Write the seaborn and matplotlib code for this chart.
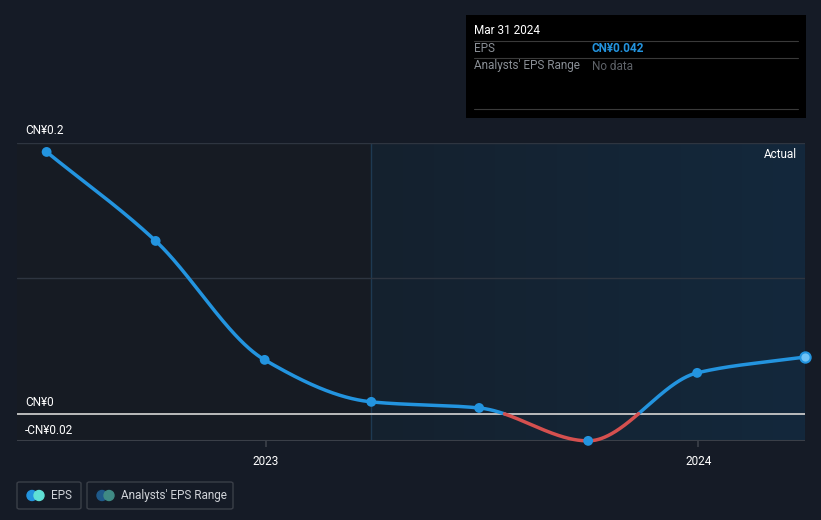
import numpy as np
import pandas as pd
import matplotlib
matplotlib.use("Agg")
import matplotlib.pyplot as plt
import matplotlib.dates as mdates
from matplotlib.patches import Rectangle, FancyBboxPatch, Ellipse
from matplotlib.colors import LinearSegmentedColormap
import seaborn as sns

# ---- data ----
dates = ["2022-06-30", "2022-09-30", "2022-12-31", "2023-03-31",
         "2023-06-30", "2023-09-30", "2023-12-31", "2024-03-31"]
eps = [0.1934, 0.1277, 0.0399, 0.0089, 0.0044, -0.0199, 0.0303, 0.042]
ytick_vals = [0.2, 0.0, -0.02]
ytick_labels = ["CN¥0.2", "CN¥0", "-CN¥0.02"]
xtick_dates = ["2023-01-01", "2024-01-01"]
xtick_labels = ["2023", "2024"]

BG = "#151b26"
BLUE = "#2394df"
RED = "#d5504f"

sns.set_theme(style="dark")
plt.rcParams['font.family'] = ['Roboto', 'DejaVu Sans']

df = pd.DataFrame({"date": pd.to_datetime(dates), "eps": eps})
xnum = mdates.date2num(df["date"])
y = np.array(eps)

def pchip(x, y, xs):
    h = np.diff(x)
    d = np.diff(y) / h
    m = np.zeros_like(y)
    for i in range(1, len(y) - 1):
        if d[i - 1] * d[i] <= 0:
            m[i] = 0
        else:
            w1 = 2 * h[i] + h[i - 1]
            w2 = h[i] + 2 * h[i - 1]
            m[i] = (w1 + w2) / (w1 / d[i - 1] + w2 / d[i])
    m[0] = d[0]
    m[-1] = d[-1]
    out = np.empty_like(xs)
    for j, xv in enumerate(xs):
        i = min(np.searchsorted(x, xv) - 1, len(x) - 2)
        i = max(i, 0)
        t = (xv - x[i]) / h[i]
        h00 = 2 * t**3 - 3 * t**2 + 1
        h10 = t**3 - 2 * t**2 + t
        h01 = -2 * t**3 + 3 * t**2
        h11 = t**3 - t**2
        out[j] = h00 * y[i] + h10 * h[i] * m[i] + h01 * y[i + 1] + h11 * h[i] * m[i + 1]
    return out

xs = np.linspace(xnum[0], xnum[-1], 1500)
ys = pchip(xnum, y, xs)

fig = plt.figure(figsize=(8.21, 5.2), dpi=100, facecolor=BG)
ax = fig.add_axes([17 / 821, 1 - 441 / 520, 788 / 821, 298 / 520])
ax.set_facecolor("#161b23")

x0 = mdates.date2num(pd.Timestamp("2022-06-05"))
x1 = xnum[-1]
ax.set_xlim(x0, x1)
ax.set_ylim(-0.02, 0.2)

# shaded "actual" region with gradient
grad = np.linspace(0, 1, 256).reshape(1, -1)
cmap = LinearSegmentedColormap.from_list("g", ["#15212e", "#13283c"])
ax.imshow(grad, extent=[xnum[3], x1, -0.02, 0.2], aspect="auto", cmap=cmap,
          zorder=0.5, origin="lower")
ax.axvline(xnum[3], color="#1e3a52", lw=1, zorder=0.6)

# grid lines
for gv in [0.2, 0.1]:
    ax.axhline(gv, color="#2e3540", lw=1, zorder=1)
ax.axhline(0, color="#c8c8c8", lw=1.3, zorder=2)
ax.axhline(-0.02, color="#3a3f48", lw=1.5, zorder=2)

# split line by sign
yp = np.where(ys >= 0, ys, np.nan)
yn = np.where(ys <= 0, ys, np.nan)
sign = np.sign(ys)
for i in range(len(ys) - 1):
    if sign[i] != sign[i + 1]:
        yp[i] = ys[i]; yp[i + 1] = ys[i + 1]
        yn[i] = ys[i]; yn[i + 1] = ys[i + 1]
ax.plot(xs, yp, color=BLUE, lw=2.5, zorder=3, solid_capstyle="round", clip_on=False)
ax.plot(xs, yn, color=RED, lw=2.5, zorder=3, solid_capstyle="round", clip_on=False)

sns.scatterplot(x=xnum[:-1], y=y[:-1], ax=ax, color=BLUE, s=50,
                edgecolor="none", zorder=4, legend=False, clip_on=False)
sns.scatterplot(x=xnum[-1:], y=y[-1:], ax=ax, color="#6fc3f7", s=55,
                edgecolor=BLUE, linewidth=1.5, zorder=5, legend=False, clip_on=False)

for s in ax.spines.values():
    s.set_visible(False)
ax.set_xticks(mdates.date2num(pd.to_datetime(xtick_dates)))
ax.set_xticklabels(xtick_labels, color="#ffffff", fontsize=8.5)
ax.tick_params(axis="x", length=4, color="#3a3f48", pad=6, bottom=True)
ax.set_yticks([])
ax.set_xlabel(""); ax.set_ylabel("")
ax.grid(False)

# y labels
ypix = {0.2: 130, 0.0: 403, -0.02: 430}
for v, lab in zip(ytick_vals, ytick_labels):
    fig.text(25 / 821, 1 - ypix[v] / 520, lab, color="#ffffff", fontsize=8.5,
             va="center", ha="left")

fig.text(797 / 821, 1 - 154 / 520, "Actual", color="#ffffff", fontsize=8.5,
         ha="right", va="center")

# tooltip
tip = Rectangle((466 / 821, 1 - 118 / 520), 340 / 821, 103 / 520,
                transform=fig.transFigure, facecolor="#000000", edgecolor="none", zorder=10)
fig.add_artist(tip)
fig.text(474 / 821, 1 - 31 / 520, "Mar 31 2024", color="#ffffff", fontsize=8.5,
         va="center", zorder=11)
for ly in [41, 58, 109]:
    fig.add_artist(plt.Line2D([474 / 821, 798 / 821], [1 - ly / 520] * 2,
                              transform=fig.transFigure, color="#3a3a3a", lw=0.8, zorder=11))
fig.text(474 / 821, 1 - 49 / 520, "EPS", color="#8a8f96", fontsize=8.5, va="center", zorder=11)
fig.text(592 / 821, 1 - 49 / 520, "CN¥0.042", color=BLUE, fontsize=8.5, va="center",
         fontweight="bold", zorder=11)
fig.text(474 / 821, 1 - 66 / 520, "Analysts' EPS Range", color="#8a8f96", fontsize=8.5,
         va="center", zorder=11)
fig.text(592 / 821, 1 - 66 / 520, "No data", color="#5e6268", fontsize=8.5, va="center",
         zorder=11)

# legend boxes
def legend_box(x, w, label, c1, c2):
    r = FancyBboxPatch((x / 821, 1 - 509 / 520), w / 821, 27 / 520,
                       boxstyle="round,pad=0,rounding_size=0.003",
                       transform=fig.transFigure, facecolor="none",
                       edgecolor="#3a3f48", lw=1)
    fig.add_artist(r)
    cy = 1 - 495.5 / 520
    fig.add_artist(Ellipse(((x + 15) / 821, cy), 10 / 821, 10 / 520,
                           transform=fig.transFigure, color=c1, zorder=12))
    fig.add_artist(Ellipse(((x + 22) / 821, cy), 10 / 821, 10 / 520,
                           transform=fig.transFigure, color=c2, zorder=13))
    fig.text((x + 34) / 821, cy, label, color="#d0d3d8", fontsize=8.5, va="center")

legend_box(17, 64, "EPS", BLUE, "#5fe0d5")
legend_box(87, 146, "Analysts' EPS Range", "#1f5a8a", "#3f8a84")

fig.savefig("out.png", dpi=100, facecolor=BG)
